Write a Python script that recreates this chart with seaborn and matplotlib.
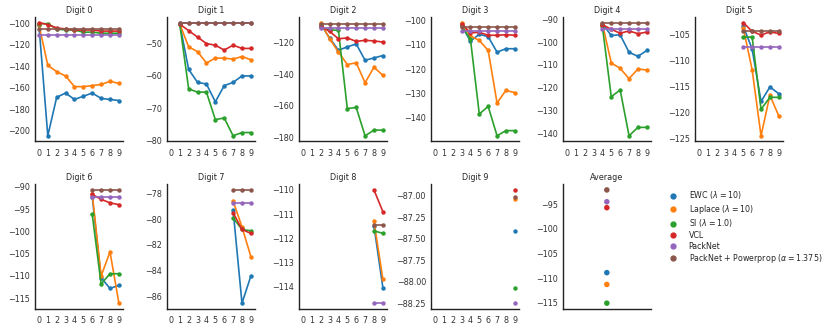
import pandas as pd
import seaborn as sns
import matplotlib.pyplot as plt
from matplotlib.lines import Line2D
from matplotlib.ticker import MultipleLocator

methods = ["EWC ($\\lambda = 10$)", "Laplace ($\\lambda = 10$)", "SI ($\\lambda = 1.0$)",
           "VCL", "PackNet", "PackNet + Powerprop ($\\alpha = 1.375$)"]
colors = ["#1f77b4", "#ff7f0e", "#2ca02c", "#d62728", "#9467bd", "#8c564b"]

# one inner list per digit, values start at the task where that digit was learned
ewc = [
    [-101, -205, -169, -165, -171, -168, -165, -170, -171, -172],
    [-44, -58, -62, -62.5, -68, -63, -62, -60, -60],
    [-108, -116.8, -124.6, -122.5, -120.6, -131, -129.5, -128],
    [-102.2, -108.6, -105.8, -106.8, -113.1, -111.7, -111.7],
    [-91.8, -97, -96.7, -104.4, -106.2, -103.6],
    [-103.4, -107.8, -117.9, -115.1, -116.4],
    [-92.2, -110.4, -112.8, -112.1],
    [-79.3, -86.5, -84.4],
    [-111.5, -114.05],
    [-87.41],
]
laplace = [
    [-101, -139, -145, -149, -159, -159, -158, -157, -154, -156],
    [-44, -51, -52.5, -56, -54.5, -54.5, -54.8, -54, -55],
    [-107, -117.3, -125.7, -133.7, -132.6, -145.3, -135.4, -140.6],
    [-101, -106.5, -108.3, -112.4, -133.9, -128.7, -129.7],
    [-91.8, -109.1, -111.5, -116, -111.8, -112.2],
    [-103.7, -111.8, -124.5, -116.7, -120.7],
    [-91.5, -110, -104.6, -116.1],
    [-78.6, -80.6, -82.9],
    [-111.3, -113.7],
    [-87.03],
]
si = [
    [-100, -100, -105, -106, -106, -108, -108, -109, -109, -109],
    [-44, -64, -65, -65, -73.5, -73, -78.5, -77.5, -77.5],
    [-110, -111.6, -112, -161.7, -161, -179, -175.4, -175.4],
    [-102.5, -107.7, -138.4, -135.3, -147.3, -145.2, -145.2],
    [-93, -124, -121, -141.2, -137.5, -137.5],
    [-105.5, -105.5, -119.4, -117.1, -117.1],
    [-96.2, -111.8, -109.5, -109.5],
    [-79.9, -80.8, -80.9],
    [-111.7, -111.8],
    [-88.07],
]
vcl = [
    [-99, -101, -104, -105, -106, -106, -106, -107, -107, -107],
    [-44, -46, -48, -50, -50.5, -52, -50.5, -51.5, -51.5],
    [-109.5, -112.6, -117.3, -116.8, -119, -118.3, -118.7, -119.4],
    [-101.5, -105.2, -105, -106.2, -106.2, -106, -106.2],
    [-92.2, -94.3, -96, -95, -96.2, -95.5],
    [-102.7, -104.4, -105.1, -104.5, -104.8],
    [-91.7, -92.8, -93.6, -94],
    [-79.5, -80.8, -81.1],
    [-110, -110.9],
    [-86.93],
]
packnet = [
    [-111, -111, -111, -111, -111, -111, -111, -111, -111, -111],
    [-43.5, -43.5, -43.5, -43.5, -43.5, -43.5, -43.5, -43.5, -43.5],
    [-110.5, -110.5, -110.5, -110.5, -110.5, -110.5, -110.5, -110.5],
    [-104.4, -104.4, -104.4, -104.4, -104.4, -104.4, -104.4],
    [-94, -94, -94, -94, -94, -94],
    [-107.5, -107.5, -107.5, -107.5, -107.5],
    [-92.2, -92.2, -92.2, -92.2],
    [-78.75, -78.75, -78.75],
    [-114.7, -114.7],
    [-88.25],
]
powerprop = [
    [-105, -105, -105, -105, -105, -105, -105, -105, -105, -105],
    [-43.5, -43.5, -43.5, -43.5, -43.5, -43.5, -43.5, -43.5, -43.5],
    [-107.8, -107.8, -107.8, -107.8, -107.8, -107.8, -107.8, -107.8],
    [-102.7, -102.7, -102.7, -102.7, -102.7, -102.7, -102.7],
    [-91.3, -91.3, -91.3, -91.3, -91.3, -91.3],
    [-104.4, -104.4, -104.4, -104.4, -104.4],
    [-90.7, -90.7, -90.7, -90.7],
    [-77.74, -77.74, -77.74],
    [-111.45, -111.45],
    [-87.01],
]
average = [-108.9, -111.3, -115.1, -95.7, -94.5, -92.1]

# y tick step of each panel (digits 0-9, then average)
y_steps = [20, 10, 20, 10, 10, 5, 5, 2, 1, 0.25, 5]

rows = []
for name, series in zip(methods, [ewc, laplace, si, vcl, packnet, powerprop]):
    for d, vals in enumerate(series):
        for i, v in enumerate(vals):
            rows.append({"digit": d, "task": d + i, "score": v, "method": name})
df = pd.DataFrame(rows)

sns.set_style("white")
plt.rcParams["font.family"] = ["DejaVu Sans"]
plt.rcParams["font.size"] = 5.8
plt.rcParams["axes.linewidth"] = 1.0
plt.rcParams["axes.edgecolor"] = "#222222"

fig, axes = plt.subplots(2, 6, figsize=(8.31, 3.31), dpi=100)
fig.subplots_adjust(left=0.042, right=0.942, top=0.949, bottom=0.067, wspace=0.5, hspace=0.344)
axes = axes.ravel()

for d in range(10):
    ax = axes[d]
    sns.lineplot(data=df[df["digit"] == d], x="task", y="score", hue="method",
                 hue_order=methods, palette=colors, marker="o", markersize=3.2,
                 markeredgewidth=0, linewidth=1.2, legend=False, ax=ax)
    ax.set_xlim(-0.45, 9.45)
    ax.set_xticks(range(10))
    ax.set_title(f"Digit {d}", fontsize=5.8, pad=3)
    ax.set_xlabel("")
    ax.set_ylabel("")

ax = axes[10]
sns.scatterplot(x=[0] * len(average), y=average, hue=methods, hue_order=methods,
                palette=colors, s=16, linewidth=0, legend=False, ax=ax)
ax.set_xlim(-1, 1)
ax.set_xticks([])
ax.set_title("Average", fontsize=5.8, pad=3)

for ax, step in zip(axes[:11], y_steps):
    ax.yaxis.set_major_locator(MultipleLocator(step))
    ax.tick_params(axis="x", labelsize=5.8, length=0, pad=5.5, colors="#333333")
    ax.tick_params(axis="y", labelsize=5.8, length=0, pad=3.5, colors="#333333")
    sns.despine(ax=ax)

axes[11].axis("off")
handles = [Line2D([], [], marker="o", linestyle="", color=c, markersize=3.5) for c in colors]
fig.legend(handles, methods, loc="upper left", bbox_to_anchor=(0.8, 0.44), frameon=False,
           fontsize=5.7, handlelength=1.0, handletextpad=1.5, borderpad=0, labelspacing=0.2)

fig.savefig("out.png", dpi=100)
